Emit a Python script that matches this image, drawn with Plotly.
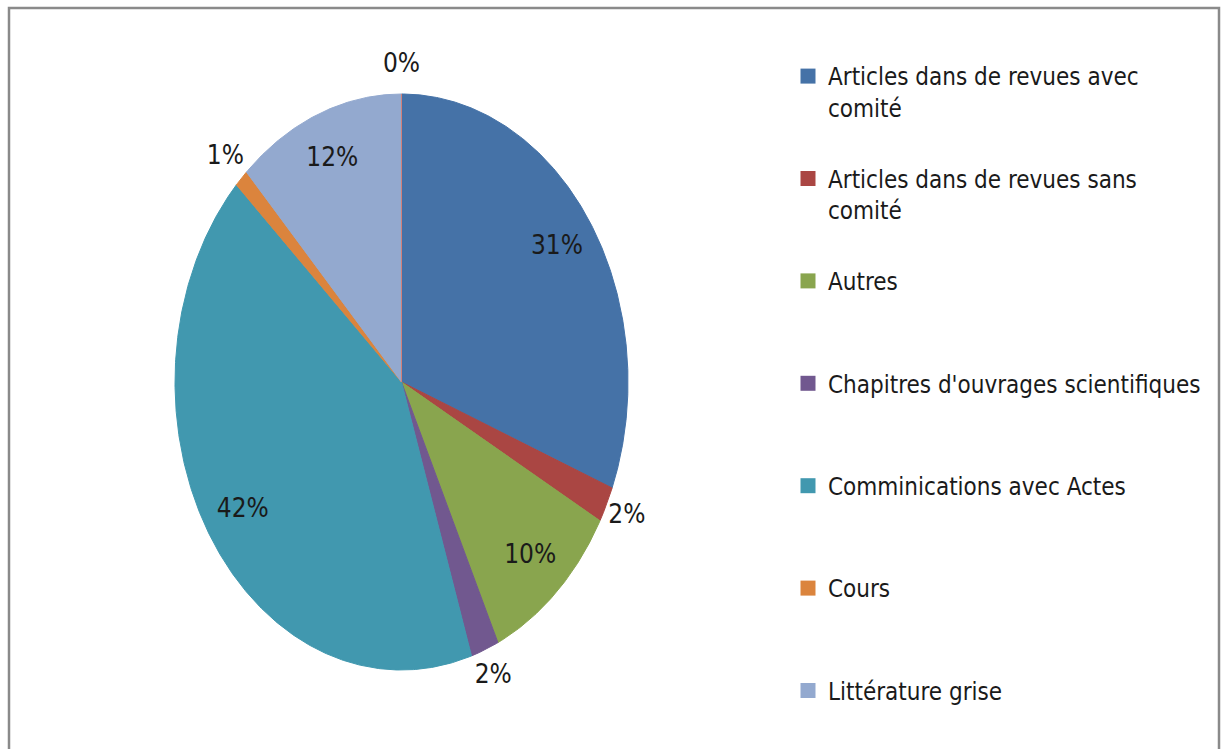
import math
import plotly.graph_objects as go

# Publication types and their share (%) of the total
categories = [
    "Articles dans de revues avec comité",
    "Articles dans de revues sans comité",
    "Autres",
    "Chapitres d'ouvrages scientifiques",
    "Comminications avec Actes",
    "Cours",
    "Littérature grise",
    "Autres publications",
]
legend_labels = [
    "Articles dans de revues avec<br>comité",
    "Articles dans de revues sans<br>comité",
    "Autres<br> ",
    "Chapitres d'ouvrages scientifiques<br> ",
    "Comminications avec Actes<br> ",
    "Cours<br> ",
    "Littérature grise",
]
shares = [31, 2, 10, 2, 42, 1, 12, 0]
colors = ["#4572A7", "#AA4643", "#89A54E", "#71588F", "#4198AF",
          "#DB843D", "#93A9CF", "#D4807A"]

FONT = "Liberation Sans Narrow, DejaVu Sans Condensed, Arial Narrow, sans-serif"

fig = go.Figure()

total = sum(shares)
start = 0.0
label_x, label_y, label_txt = [], [], []
for i, (name, val, col) in enumerate(zip(categories, shares, colors)):
    a0 = start / total * 2 * math.pi
    a1 = (start + val) / total * 2 * math.pi
    n = max(2, int(abs(a1 - a0) / (2 * math.pi) * 720) + 2)
    xs, ys = [0.0], [0.0]
    for k in range(n + 1):
        a = a0 + (a1 - a0) * k / n
        xs.append(math.sin(a))
        ys.append(math.cos(a))
    xs.append(0.0)
    ys.append(0.0)
    group = f"g{i}"
    fig.add_trace(go.Scatter(
        x=xs, y=ys, mode="lines", fill="toself",
        fillcolor=col, line=dict(color=col, width=1),
        hoverinfo="text", text=f"{name}: {val}%",
        legendgroup=group, showlegend=False,
    ))
    # percentage label: inside for large slices, outside for small ones
    mid = (a0 + a1) / 2
    r = 0.83 if val >= 5 else 1.1
    label_x.append(r * math.sin(mid))
    label_y.append(r * math.cos(mid))
    label_txt.append(f"{round(val / total * 100)}%")
    start += val

# legend entries with square swatches
for i, lab in enumerate(legend_labels):
    fig.add_trace(go.Scatter(
        x=[None], y=[None], mode="markers", name=lab,
        marker=dict(symbol="square", size=15, color=colors[i]),
        legendgroup=f"g{i}", showlegend=True,
    ))

fig.add_trace(go.Scatter(
    x=label_x, y=label_y, mode="text", text=label_txt,
    textfont=dict(family=FONT, size=26, color="#1a1a1a"),
    textposition="middle center", hoverinfo="skip", showlegend=False,
    cliponaxis=False,
))

W, H = 1223, 749
# pie centre and radii in pixels; axes span +/- EXT units around the centre
CX, CY, RX, RY, EXT = 401.5, 382.0, 226.5, 288.0, 1.2
fig.update_layout(
    width=W, height=H,
    margin=dict(l=0, r=0, t=0, b=0),
    paper_bgcolor="white", plot_bgcolor="white",
    font=dict(family=FONT, size=24, color="#1a1a1a"),
    xaxis=dict(range=[-EXT, EXT],
               domain=[(CX - EXT * RX) / W, (CX + EXT * RX) / W],
               visible=False, fixedrange=True),
    yaxis=dict(range=[-EXT, EXT],
               domain=[1 - (CY + EXT * RY) / H, 1 - (CY - EXT * RY) / H],
               visible=False, fixedrange=True),
    legend=dict(
        x=788 / W, y=1 - 54 / H, xanchor="left", yanchor="top",
        valign="top", tracegroupgap=37, itemwidth=30,
        font=dict(family=FONT, size=24, color="#1a1a1a"),
        bgcolor="rgba(0,0,0,0)",
    ),
    shapes=[dict(
        type="rect", xref="paper", yref="paper",
        x0=9 / W, x1=1219 / W, y0=-0.05, y1=1 - 8 / H,
        line=dict(color="#8a8a8a", width=2.5), fillcolor="rgba(0,0,0,0)",
    )],
)

fig.write_html("out.html")
